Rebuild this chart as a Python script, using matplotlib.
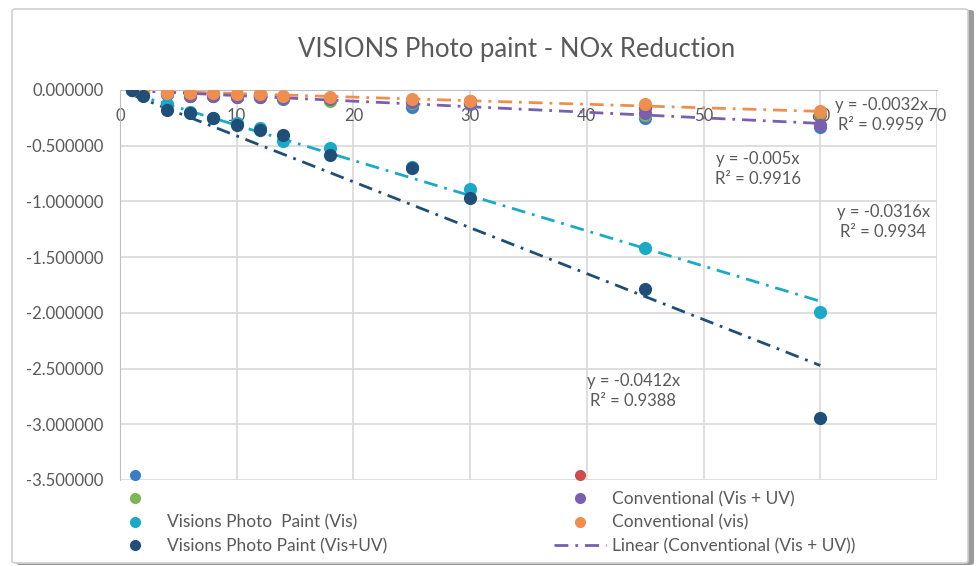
import matplotlib
matplotlib.use("Agg")
import matplotlib.pyplot as plt
from matplotlib.lines import Line2D
from matplotlib.patches import FancyBboxPatch

# データ
minutes = [1, 2, 4, 6, 8, 10, 12, 14, 18, 25, 30, 45, 60]

series_blue = [0, -0.02, -0.04, -0.05, -0.05, -0.06, -0.06, -0.08, -0.09, -0.15, -0.13, -0.25, -0.33]
series_red = [0, -0.01, -0.03, -0.04, -0.04, -0.05, -0.04, -0.06, -0.07, -0.10, -0.10, -0.16, -0.22]
series_green = [0, -0.02, -0.04, -0.05, -0.05, -0.06, -0.06, -0.07, -0.10, -0.12, -0.12, -0.22, -0.21]
conv_vis_uv = [0, -0.02, -0.04, -0.05, -0.05, -0.06, -0.06, -0.07, -0.08, -0.11, -0.12, -0.21, -0.31]
visions_vis = [0, -0.03, -0.13, -0.20, -0.25, -0.30, -0.34, -0.46, -0.52, -0.69, -0.89, -1.42, -1.99]
conv_vis = [0, -0.01, -0.03, -0.03, -0.03, -0.04, -0.04, -0.05, -0.06, -0.08, -0.10, -0.13, -0.19]
visions_vis_uv = [0, -0.05, -0.18, -0.21, -0.25, -0.31, -0.36, -0.40, -0.58, -0.70, -0.97, -1.79, -2.94]

# 近似直線 (切片0) の傾きと R^2
trend_slopes = {"conv_vis": -0.0032, "conv_vis_uv": -0.005,
                "visions_vis": -0.0316, "visions_vis_uv": -0.0412}
trend_r2 = {"conv_vis": 0.9959, "conv_vis_uv": 0.9916,
            "visions_vis": 0.9934, "visions_vis_uv": 0.9388}

legend_labels = ["", "", "Visions Photo  Paint (Vis)", "Visions Photo Paint (Vis+UV)",
                 "", "Conventional (Vis + UV)", "Conventional (vis)",
                 "Linear (Conventional (Vis + UV))"]

C_BLUE = "#3a7dc5"
C_RED = "#cc4b4b"
C_GREEN = "#7db653"
C_PURPLE = "#7a5fb0"
C_CYAN = "#1aaac5"
C_ORANGE = "#ef8f4f"
C_NAVY = "#1f4e79"
TEXT = "#595959"
GRID = "#d9d9d9"

plt.rcParams["font.family"] = ["Lato", "DejaVu Sans"]

W, H = 980, 566
fig = plt.figure(figsize=(W / 100, H / 100), dpi=100)

# チャート枠 (影つき)
fig.patches.append(FancyBboxPatch((16 / W, 1 - 566 / H + 1 / H), 958 / W, 555 / H,
                                  boxstyle="round,pad=0,rounding_size=0.004",
                                  transform=fig.transFigure, facecolor="#9a9a9a",
                                  edgecolor="none", zorder=-2))
fig.patches.append(FancyBboxPatch((12 / W, 1 - 563 / H), 956 / W, 554 / H,
                                  boxstyle="round,pad=0,rounding_size=0.004",
                                  transform=fig.transFigure, facecolor="white",
                                  edgecolor="#cfcfcf", linewidth=1.2, zorder=-1))

ax = fig.add_axes([120 / W, 1 - 480 / H, (937 - 120) / W, (480 - 90) / H])
ax.set_facecolor("none")
ax.set_zorder(1)

point_kw = dict(s=90, linewidths=0, zorder=3)
ax.scatter(minutes, series_blue, color=C_BLUE, **point_kw)
ax.scatter(minutes, series_red, color=C_RED, **point_kw)
ax.scatter(minutes, series_green, color=C_GREEN, **point_kw)
ax.scatter(minutes, conv_vis_uv, color=C_PURPLE, **point_kw)
ax.scatter(minutes, visions_vis, color=C_CYAN, **point_kw)
ax.scatter(minutes, conv_vis, color=C_ORANGE, **point_kw)
ax.scatter(minutes, visions_vis_uv, color=C_NAVY, **point_kw)

# 近似直線
x_fit = [minutes[0], minutes[-1]]
dash = (0, (5, 2.5, 1, 2.5))
trend_colors = {"conv_vis": C_ORANGE, "conv_vis_uv": C_PURPLE,
                "visions_vis": C_CYAN, "visions_vis_uv": C_NAVY}
for key, slope in trend_slopes.items():
    ax.plot(x_fit, [slope * v for v in x_fit], color=trend_colors[key],
            linestyle=dash, linewidth=2, zorder=2)

# 近似式ラベル
label_pos = {"conv_vis": (0.932, 0.935), "conv_vis_uv": (0.781, 0.798),
             "visions_vis": (0.934, 0.662), "visions_vis_uv": (0.628, 0.228)}
for key, (lx, ly) in label_pos.items():
    ax.text(lx, ly, f"y = {trend_slopes[key]}x\nR² = {trend_r2[key]}",
            transform=ax.transAxes, ha="center", va="center", fontsize=12,
            color=TEXT, linespacing=1.3, zorder=4)

ax.set_xlim(0, 70)
ax.set_ylim(-3.5, 0)
ax.set_xticks(range(0, 71, 10))
ax.set_yticks([-3.5, -3.0, -2.5, -2.0, -1.5, -1.0, -0.5, 0.0])
ax.set_yticklabels([f"{v:.6f}" for v in ax.get_yticks()])
ax.grid(True, color=GRID, linewidth=1.2, zorder=0)
ax.set_axisbelow(True)

ax.spines["bottom"].set_position(("data", 0))
ax.spines["bottom"].set_color("#bfbfbf")
ax.spines["left"].set_color("#bfbfbf")
ax.spines["top"].set_visible(False)
ax.spines["right"].set_visible(False)
ax.tick_params(axis="x", length=0, pad=13, labelsize=12, labelcolor=TEXT)
ax.tick_params(axis="y", length=0, pad=12, labelsize=12, labelcolor=TEXT)

fig.text(517 / W, 1 - 50 / H, "VISIONS Photo paint - NOx Reduction",
         ha="center", va="center", fontsize=18.5, color=TEXT)

# 凡例 (2列)
def marker_handle(c):
    return Line2D([], [], linestyle="none", marker="o", markersize=8,
                  markerfacecolor=c, markeredgewidth=0)

handles = [marker_handle(C_BLUE), marker_handle(C_GREEN), marker_handle(C_CYAN),
           marker_handle(C_NAVY), marker_handle(C_RED), marker_handle(C_PURPLE),
           marker_handle(C_ORANGE),
           Line2D([], [], color=C_PURPLE, linestyle=dash, linewidth=2)]

leg_kw = dict(frameon=False, fontsize=12.5, labelcolor=TEXT, borderpad=0,
              borderaxespad=0, handlelength=3.0, handletextpad=0.35,
              labelspacing=0.42, loc="upper left")
fig.legend(handles[:4], legend_labels[:4], bbox_to_anchor=(109 / W, 1 - 468 / H), **leg_kw)
fig.legend(handles[4:], legend_labels[4:], bbox_to_anchor=(554 / W, 1 - 468 / H), **leg_kw)

fig.savefig("out.png", dpi=100)
